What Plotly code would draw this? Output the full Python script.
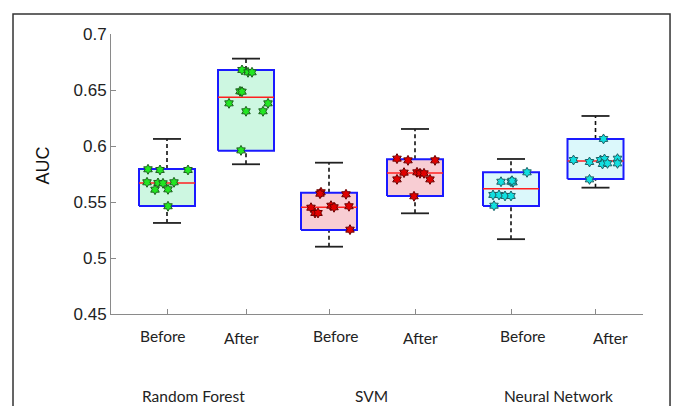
import plotly.graph_objects as go

# ---- data -------------------------------------------------------------
MODELS = ["Random Forest", "SVM", "Neural Network"]
PHASES = ["Before", "After"]

# box statistics per (model, phase), in plotting order
Q1 = [0.5464, 0.5958, 0.5250, 0.5554, 0.5464, 0.5705]
MEDIAN = [0.5670, 0.6435, 0.5453, 0.5759, 0.5619, 0.5866]
Q3 = [0.5795, 0.6679, 0.5583, 0.5881, 0.5765, 0.6063]
LOWER = [0.5313, 0.5837, 0.5101, 0.5399, 0.5168, 0.5628]
UPPER = [0.6063, 0.6780, 0.5851, 0.6152, 0.5884, 0.6268]

# per-fold AUC values
RF_BEFORE = [0.5792, 0.5786, 0.5786, 0.5676, 0.5670, 0.5667, 0.5676, 0.5610, 0.5613, 0.5462]
RF_AFTER = [0.6679, 0.6658, 0.6658, 0.6488, 0.6485, 0.6381, 0.6381, 0.6310, 0.6310, 0.5961]
SVM_BEFORE = [0.5587, 0.5574, 0.5569, 0.5449, 0.5402, 0.5402, 0.5467, 0.5453, 0.5462, 0.5253]
SVM_AFTER = [0.5887, 0.5872, 0.5872, 0.5762, 0.5765, 0.5756, 0.5756, 0.5702, 0.5702, 0.5551]
NN_BEFORE = [0.5765, 0.5681, 0.5681, 0.5675, 0.5563, 0.5563, 0.5554, 0.5554, 0.5467, 0.5690]
NN_AFTER = [0.6063, 0.5875, 0.5857, 0.5875, 0.5884, 0.5839, 0.5845, 0.5887, 0.5845, 0.5702]
POINTS = [RF_BEFORE, RF_AFTER, SVM_BEFORE, SVM_AFTER, NN_BEFORE, NN_AFTER]

Y_TICKS = [0.45, 0.5, 0.55, 0.6, 0.65, 0.7]

# ---- layout / style ---------------------------------------------------
BOX_POS = [0.56, 1.35, 2.18, 3.04, 4.00, 4.845]
LABEL_POS = [0.52, 1.30, 2.25, 3.09, 4.12, 4.99]
MODEL_LABEL_POS = [0.82, 2.60, 4.47]
JITTER = [
    [-0.19, -0.07, 0.21, -0.20, -0.09, -0.04, 0.07, -0.12, 0.01, 0.01],
    [-0.04, 0.02, 0.06, -0.06, -0.04, -0.17, 0.22, 0.00, 0.17, -0.05],
    [-0.08, -0.09, 0.17, -0.18, -0.14, -0.11, 0.02, 0.05, 0.20, 0.21],
    [-0.18, -0.07, 0.20, -0.11, 0.02, 0.05, 0.09, -0.18, 0.15, -0.01],
    [0.16, -0.10, 0.00, 0.02, -0.18, -0.12, -0.06, 0.00, -0.17, 0.01],
    [0.08, -0.22, -0.06, 0.05, 0.09, 0.07, 0.12, 0.22, 0.22, -0.06],
]
HALF_W = 0.28
CAP_W = 0.14
FILLS = ["#cdf7e1", "#cdf7e1", "#f8cdd3", "#f8cdd3", "#dbf8fb", "#dbf8fb"]
DOT = ["#22e622", "#22e622", "#e00000", "#e00000", "#10e0e0", "#10e0e0"]
DOT_EDGE = ["#1d5e1d", "#1d5e1d", "#6a0000", "#6a0000", "#1d5e63", "#1d5e63"]
EDGE = "#1a1aff"
AXIS_GREY = "#8a8a8a"
LABEL_FONT = dict(family="Lato, Open Sans, sans-serif", size=15.5, color="#222222")

fig = go.Figure()

for i, pos in enumerate(BOX_POS):
    # whiskers (dashed) and caps
    for a, b in ((Q3[i], UPPER[i]), (LOWER[i], Q1[i])):
        fig.add_trace(go.Scatter(
            x=[pos, pos], y=[a, b], mode="lines",
            line=dict(color="#111111", width=1.6, dash="4px,3px"),
            hoverinfo="skip", showlegend=False))
    for v in (UPPER[i], LOWER[i]):
        fig.add_trace(go.Scatter(
            x=[pos - CAP_W, pos + CAP_W], y=[v, v], mode="lines",
            line=dict(color="#222222", width=1.8),
            hoverinfo="skip", showlegend=False))
    # box body
    fig.add_trace(go.Scatter(
        x=[pos - HALF_W, pos + HALF_W, pos + HALF_W, pos - HALF_W, pos - HALF_W],
        y=[Q1[i], Q1[i], Q3[i], Q3[i], Q1[i]],
        mode="lines", fill="toself", fillcolor=FILLS[i],
        line=dict(color=EDGE, width=2),
        hoverinfo="skip", showlegend=False))
    # median
    fig.add_trace(go.Scatter(
        x=[pos - HALF_W, pos + HALF_W], y=[MEDIAN[i], MEDIAN[i]], mode="lines",
        line=dict(color="#ff2020", width=1.5),
        hoverinfo="skip", showlegend=False))
    # individual folds
    fig.add_trace(go.Scatter(
        x=[pos + d for d in JITTER[i]], y=POINTS[i], mode="markers",
        marker=dict(symbol="hexagram", size=7.5, color=DOT[i],
                    line=dict(color=DOT_EDGE[i], width=1)),
        showlegend=False))

annotations = []
for j, lp in enumerate(LABEL_POS):
    phase = PHASES[j % 2]
    annotations.append(dict(
        x=lp, y=-0.080 if phase == "Before" else -0.087, xref="x", yref="paper",
        text=phase, showarrow=False, xanchor="center", yanchor="middle",
        font=LABEL_FONT))
for name, mp in zip(MODELS, MODEL_LABEL_POS):
    annotations.append(dict(
        x=mp, y=-0.293, xref="x", yref="paper", text=name, showarrow=False,
        xanchor="center", yanchor="middle", font=LABEL_FONT))
annotations.append(dict(
    x=-0.128, y=0.53, xref="paper", yref="paper", text="AUC", textangle=-90,
    showarrow=False, xanchor="center", yanchor="middle",
    font=dict(family="Liberation Sans, Arial, sans-serif", size=18, color="#111111")))

fig.update_layout(
    width=673, height=406,
    margin=dict(l=111, r=30, t=34, b=92),
    paper_bgcolor="white", plot_bgcolor="white",
    annotations=annotations,
    shapes=[dict(type="rect", xref="paper", yref="paper",
                 x0=-0.1842, x1=1.0508, y0=-0.40, y1=1.0714,
                 line=dict(color="#333333", width=1.5), layer="below")],
    xaxis=dict(range=[0, 5.32], tickvals=BOX_POS, ticktext=[""] * 6,
               ticks="inside", ticklen=5, tickcolor=AXIS_GREY,
               showline=True, linecolor=AXIS_GREY, linewidth=1,
               showgrid=False, zeroline=False, fixedrange=True),
    yaxis=dict(range=[0.45, 0.7], tickvals=Y_TICKS,
               ticktext=[f"{v:g}" for v in Y_TICKS],
               ticks="inside", ticklen=5, tickcolor=AXIS_GREY,
               showline=True, linecolor=AXIS_GREY, linewidth=1,
               showgrid=False, zeroline=False,
               tickfont=dict(family="Liberation Sans, Arial, sans-serif", size=17, color="#222222")),
)

fig.write_html("out.html")
